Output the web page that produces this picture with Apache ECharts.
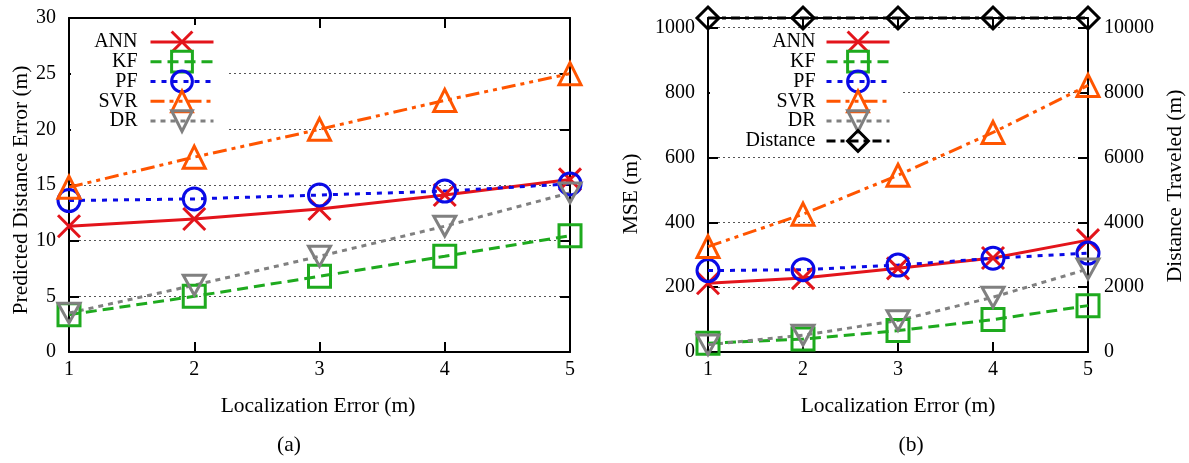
<!DOCTYPE html>
<html><head><meta charset="utf-8">
<script src="https://cdn.jsdelivr.net/npm/echarts@6/dist/echarts.min.js"></script>
<style>html,body{margin:0;padding:0;background:#fff}#c{width:1189px;height:463px}</style>
</head><body><div id="c"></div>
<script>
// ---- data ----
const xValues = [1, 2, 3, 4, 5];
const seriesNames = ['ANN', 'KF', 'PF', 'SVR', 'DR'];
// (a) Predicted Distance Error (m)
const annA = [11.3, 11.95, 12.85, 14.1, 15.5];
const kfA  = [3.35, 5.0, 6.8, 8.6, 10.45];
const pfA  = [13.6, 13.75, 14.1, 14.45, 15.1];
const svrA = [14.8, 17.5, 20.0, 22.6, 25.0];
const drA  = [3.5, 6.0, 8.6, 11.3, 14.3];
// (b) MSE (m) and Distance Traveled (m)
const annB = [212, 228, 258, 290, 345];
const kfB  = [27, 40, 66, 100, 143];
const pfB  = [251, 254, 268, 289, 305];
const svrB = [325, 425, 545, 677, 822];
const drB  = [22, 52, 97, 169, 256];
const distB = [10300, 10300, 10300, 10300, 10300];
// tick settings
const yTicksA = {min: 0, max: 30, interval: 5};
const yTicksB = {min: 0, max: 1030, interval: 200};
const y2TicksB = {min: 0, max: 10300, interval: 2000};

const FONT = '"Liberation Serif", "Times New Roman", serif';
const TITLE_FONT = '21.5px ' + FONT;

const styles = {
  ANN: {color: '#e3141b', dash: 'solid', symbol: 'path://M0,0L10,10M10,0L0,10'},
  KF: {color: '#1eaa1e', dash: [11, 6], symbol: 'rect'},
  PF: {color: '#0a0ae6', dash: [5, 6], symbol: 'circle'},
  SVR: {color: '#ff5500', dash: [14, 5, 4, 5, 4, 5], symbol: 'triangle'},
  DR: {color: '#808080', dash: [5, 5], symbol: 'path://M0,0L10,0L5,9Z'},
  Distance: {color: '#000000', dash: [9, 5, 4, 5], symbol: 'diamond'}
};

function mkSeries(name, vals, xi, yi) {
  const st = styles[name];
  return {
    type: 'line', name: name, xAxisIndex: xi, yAxisIndex: yi,
    data: xValues.map((x, i) => [x, vals[i]]),
    symbol: st.symbol, symbolSize: 22, symbolKeepAspect: true,
    showSymbol: true, clip: false,
    lineStyle: {color: st.color, width: 3, type: st.dash, cap: 'butt'},
    itemStyle: {color: 'rgba(255,255,255,0)', borderColor: st.color, borderWidth: 3},
    emphasis: {disabled: true}, z: 3
  };
}

const axisLine = {show: true, onZero: false, lineStyle: {color: '#000', width: 2}};
const axisTick = {show: true, inside: true, length: 10, lineStyle: {color: '#000', width: 2}};
const tickLabel = {color: '#000', fontFamily: FONT, fontSize: 20};
const splitLine = {show: true, lineStyle: {color: '#555', width: 1, type: [2, 3]}};

function xAx(gi, pos, labels) {
  return {type: 'value', gridIndex: gi, position: pos, min: 1, max: 5, interval: 1,
    axisLine: axisLine, axisTick: axisTick, splitLine: {show: false},
    axisLabel: labels ? Object.assign({margin: 8}, tickLabel) : {show: false}};
}
function yAx(gi, pos, t, labels, split, margin) {
  return {type: 'value', gridIndex: gi, position: pos, min: t.min, max: t.max, interval: t.interval,
    axisLine: axisLine, axisTick: axisTick, splitLine: split ? splitLine : {show: false},
    axisLabel: labels ? Object.assign({margin: margin,
      formatter: v => (v % t.interval === 0 ? String(v) : '')}, tickLabel) : {show: false}};
}

const legendText = {color: '#000', fontFamily: FONT, fontSize: 20};
const legendCommon = {orient: 'vertical', align: 'right', top: 30, padding: 0,
  itemWidth: 63, itemHeight: 26, itemGap: -4, selectedMode: false,
  lineStyle: {width: 3}, itemStyle: {borderWidth: 3}};

function title(text, x, y, rot) {
  return {type: 'text', z: 10, x: x, y: y, rotation: rot ? Math.PI / 2 : 0,
    style: {text: text, font: TITLE_FONT, fill: '#000', align: 'center', verticalAlign: 'middle'}};
}

const chart = echarts.init(document.getElementById('c'));
const option = {
  animation: false,
  backgroundColor: '#fff',
  grid: [
    {left: 69, right: 619, top: 18, bottom: 111},
    {left: 708, right: 101, top: 18, bottom: 111}
  ],
  xAxis: [xAx(0, 'bottom', true), xAx(0, 'top', false), xAx(1, 'bottom', true), xAx(1, 'top', false)],
  yAxis: [
    yAx(0, 'left', yTicksA, true, true, 13),
    yAx(0, 'right', yTicksA, false, false, 0),
    yAx(1, 'left', yTicksB, true, true, 13),
    yAx(1, 'right', y2TicksB, true, false, 16)
  ],
  legend: [
    Object.assign({data: seriesNames, right: 974,
      textStyle: Object.assign({padding: [0, 8, 0, 0]}, legendText)}, legendCommon),
    Object.assign({data: seriesNames.concat(['Distance']), right: 298,
      textStyle: Object.assign({padding: [0, 6, 0, 0]}, legendText)}, legendCommon)
  ],
  graphic: {elements: [
    {type: 'rect', z: 1, shape: {x: 71, y: 25, width: 155, height: 112}, style: {fill: '#fff'}},
    {type: 'rect', z: 1, shape: {x: 710, y: 31, width: 192, height: 122}, style: {fill: '#fff'}},
    title('Predicted Distance Error (m)', 21.5, 190, true),
    title('Localization Error (m)', 318, 406, false),
    title('(a)', 289, 445, false),
    title('MSE (m)', 631, 194, true),
    title('Distance Traveled (m)', 1175, 186, true),
    title('Localization Error (m)', 898, 406, false),
    title('(b)', 911, 445, false)
  ]},
  series: [
    mkSeries('ANN', annA, 0, 0), mkSeries('KF', kfA, 0, 0), mkSeries('PF', pfA, 0, 0),
    mkSeries('SVR', svrA, 0, 0), mkSeries('DR', drA, 0, 0),
    mkSeries('ANN', annB, 2, 2), mkSeries('KF', kfB, 2, 2), mkSeries('PF', pfB, 2, 2),
    mkSeries('SVR', svrB, 2, 2), mkSeries('DR', drB, 2, 2),
    mkSeries('Distance', distB, 2, 3)
  ]
};
chart.setOption(option);
</script></body></html>
